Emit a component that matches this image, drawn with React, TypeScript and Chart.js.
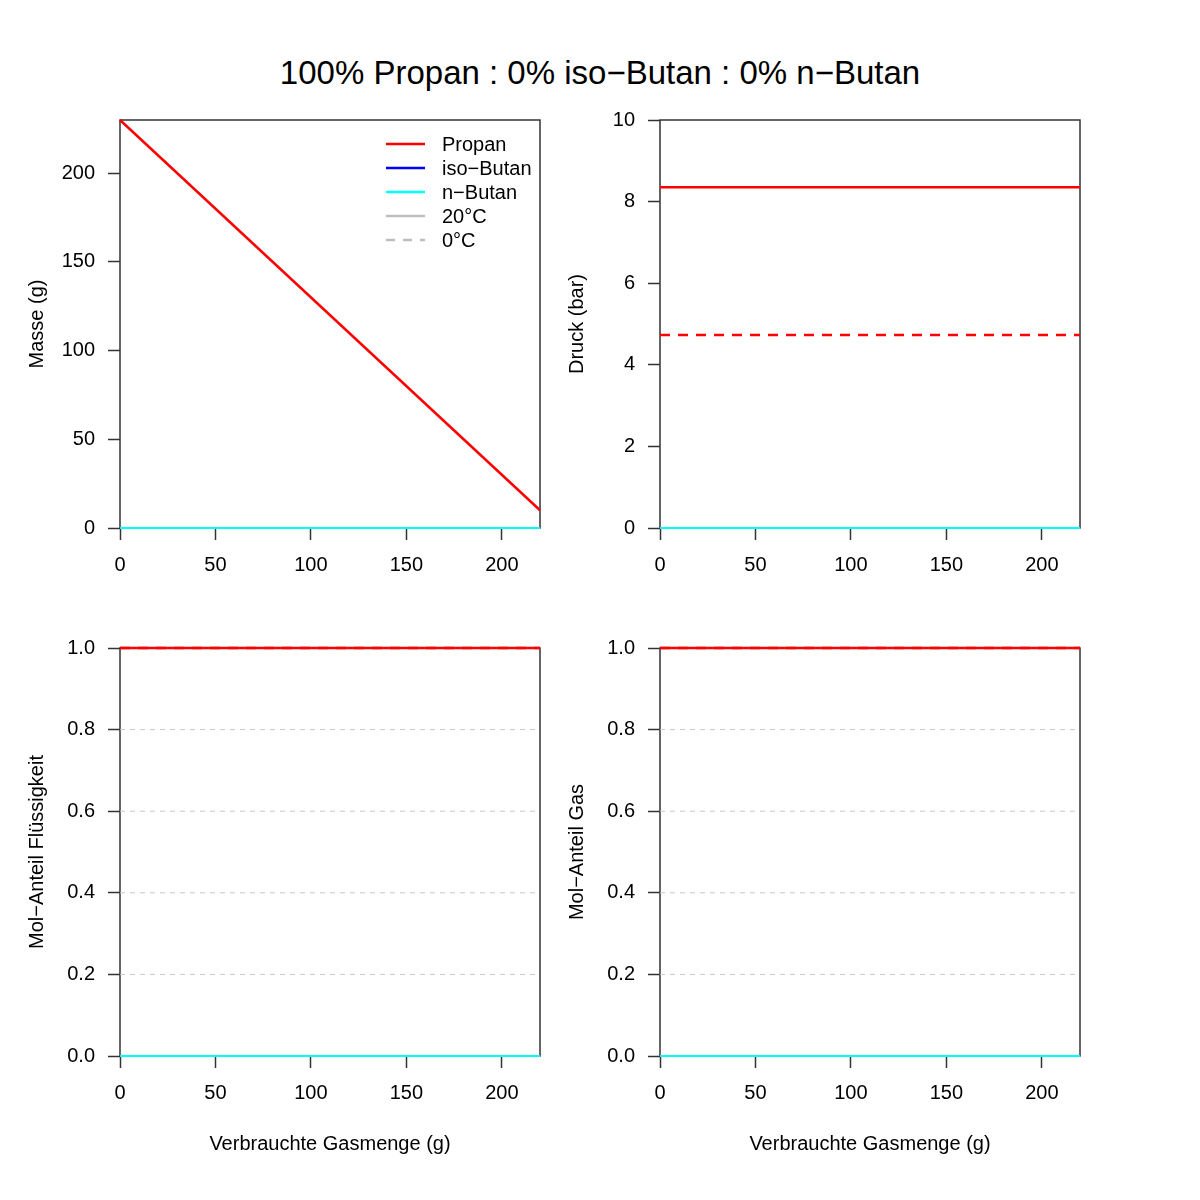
import React, { useEffect, useRef } from 'react';
import Chart from 'chart.js/auto';

const FONT = '"Liberation Sans", Arial, Helvetica, sans-serif';

const mainTitle = '100% Propan : 0% iso−Butan : 0% n−Butan';
const xAxisTitle = 'Verbrauchte Gasmenge (g)';

// x: verbrauchte Gasmenge (g)
const gasUsed = [0, 220];
const xTicks = [0, 50, 100, 150, 200];

// Masse (g)
const massPropan = [230, 10];
const massIsoButan = [0, 0];
const massNButan = [0, 0];
const massTicks = [0, 50, 100, 150, 200];

// Druck (bar), 20°C und 0°C
const pressPropan20 = [8.35, 8.35];
const pressPropan0 = [4.73, 4.73];
const pressIsoButan20 = [0, 0];
const pressIsoButan0 = [0, 0];
const pressNButan20 = [0, 0];
const pressNButan0 = [0, 0];
const pressTicks = [0, 2, 4, 6, 8, 10];

// Mol-Anteil Flüssigkeit
const liqPropan20 = [1, 1];
const liqPropan0 = [1, 1];
const liqIsoButan20 = [0, 0];
const liqIsoButan0 = [0, 0];
const liqNButan20 = [0, 0];
const liqNButan0 = [0, 0];

// Mol-Anteil Gas
const gasPropan20 = [1, 1];
const gasPropan0 = [1, 1];
const gasIsoButan20 = [0, 0];
const gasIsoButan0 = [0, 0];
const gasNButan20 = [0, 0];
const gasNButan0 = [0, 0];

const fracTicks = [0, 0.2, 0.4, 0.6, 0.8, 1.0];
const fracGrid = [0.2, 0.4, 0.6, 0.8];

const legendLabels = ['Propan', 'iso−Butan', 'n−Butan', '20°C', '0°C'];
const RED = '#ff0000';
const BLUE = '#0000ff';
const CYAN = '#00ffff';
const GRAY = '#bebebe';
const legendColors = [RED, BLUE, CYAN, GRAY, GRAY];
const legendDashed = [false, false, false, false, true];

const PLOT_W = 420;
const PLOT_H = 408;
const AXIS_W = 110;
const AXIS_H = 100;
const PAD_TOP = 30;
const PAD_RIGHT = 10;

type Series = { values: number[]; color: string; dashed?: boolean; grid?: boolean };

const framePlugin = {
  id: 'frame',
  beforeDatasetsDraw(chart: any) {
    const { ctx, chartArea } = chart;
    const { left, top, right, bottom } = chartArea;
    ctx.save();
    ctx.strokeStyle = '#333333';
    ctx.lineWidth = 1.5;
    ctx.strokeRect(left, top, right - left, bottom - top);
    ctx.restore();
  },
};

function Panel(props: {
  left: number;
  top: number;
  series: Series[];
  yMax: number;
  yTicks: number[];
  yTitle: string;
  yDecimals: number;
  showXTitle: boolean;
}) {
  const chartRef = useRef<HTMLCanvasElement | null>(null);
  const chartInstance = useRef<Chart | null>(null);
  const width = AXIS_W + PLOT_W + PAD_RIGHT;
  const height = PAD_TOP + PLOT_H + AXIS_H;

  useEffect(() => {
    if (chartInstance.current) {
      chartInstance.current.destroy();
    }
    const ctx = chartRef.current?.getContext('2d');
    if (ctx) {
      // Chart.js draws the first dataset last, so reverse to keep R's drawing order
      const datasets = props.series
        .map((s) => ({
          data: gasUsed.map((x, i) => ({ x, y: s.values[i] })),
          borderColor: s.color,
          borderWidth: s.grid ? 1 : s.color === RED ? 2.5 : 2.2,
          borderDash: s.grid ? [5, 5] : s.dashed ? [10, 8] : [],
          pointRadius: 0,
          tension: 0,
          clip: false as any,
        }))
        .reverse();
      chartInstance.current = new Chart(ctx, {
        type: 'line',
        data: { datasets },
        plugins: [framePlugin],
        options: {
          responsive: false,
          animation: false,
          events: [],
          layout: { padding: { top: PAD_TOP, right: PAD_RIGHT, left: 0, bottom: 0 } },
          plugins: {
            legend: { display: false },
            tooltip: { enabled: false },
          },
          scales: {
            x: {
              type: 'linear',
              min: 0,
              max: 220,
              afterBuildTicks: (scale: any) => {
                scale.ticks = xTicks.map((v) => ({ value: v }));
              },
              afterFit: (scale: any) => {
                scale.height = AXIS_H;
              },
              grid: {
                drawOnChartArea: false,
                drawTicks: true,
                tickLength: 12,
                tickColor: '#333333',
                tickWidth: 1.5,
              },
              border: { display: false },
              ticks: {
                color: '#000',
                font: { family: FONT, size: 20 },
                padding: 13,
                maxRotation: 0,
              },
              title: {
                display: props.showXTitle,
                text: xAxisTitle,
                color: '#000',
                font: { family: FONT, size: 20 },
                padding: { top: 6, bottom: 0 },
              },
            },
            y: {
              type: 'linear',
              min: 0,
              max: props.yMax,
              afterBuildTicks: (scale: any) => {
                scale.ticks = props.yTicks.map((v) => ({ value: v }));
              },
              afterFit: (scale: any) => {
                scale.width = AXIS_W;
              },
              grid: {
                drawOnChartArea: false,
                drawTicks: true,
                tickLength: 12,
                tickColor: '#333333',
                tickWidth: 1.5,
              },
              border: { display: false },
              ticks: {
                color: '#000',
                font: { family: FONT, size: 20 },
                padding: 13,
                callback: (v: any) => Number(v).toFixed(props.yDecimals),
              },
              title: {
                display: true,
                text: props.yTitle,
                color: '#000',
                font: { family: FONT, size: 20 },
                padding: { top: 15, bottom: 0 },
              },
            },
          },
        },
      });
    }
    return () => {
      if (chartInstance.current) {
        chartInstance.current.destroy();
        chartInstance.current = null;
      }
    };
  }, []);

  return (
    <canvas
      ref={chartRef}
      width={width}
      height={height}
      style={{
        position: 'absolute',
        left: props.left - AXIS_W,
        top: props.top - PAD_TOP,
        width,
        height,
      }}
    />
  );
}

function components(
  propan20: number[],
  iso20: number[],
  n20: number[],
  propan0?: number[],
  iso0?: number[],
  n0?: number[]
): Series[] {
  const list: Series[] = [
    { values: propan20, color: RED },
    { values: iso20, color: BLUE },
    { values: n20, color: CYAN },
  ];
  if (propan0 && iso0 && n0) {
    list.push({ values: propan0, color: RED, dashed: true });
    list.push({ values: iso0, color: BLUE, dashed: true });
    list.push({ values: n0, color: CYAN, dashed: true });
  }
  return list;
}

const gridSeries: Series[] = fracGrid.map((v) => ({ values: gasUsed.map(() => v), color: '#c8c8c8', grid: true }));

function Legend() {
  return (
    <div style={{ position: 'absolute', left: 380, top: 132, width: 170, fontFamily: FONT, fontSize: 20 }}>
      {legendLabels.map((label, i) => (
        <div key={label} style={{ position: 'absolute', left: 0, top: i * 24, height: 24, width: 170 }}>
          <svg width={50} height={24} style={{ position: 'absolute', left: 0, top: 0 }}>
            <line
              x1={6}
              x2={45}
              y1={12}
              y2={12}
              stroke={legendColors[i]}
              strokeWidth={2.5}
              strokeDasharray={legendDashed[i] ? '9 8' : undefined}
            />
          </svg>
          <span style={{ position: 'absolute', left: 62, top: 0, lineHeight: '24px', whiteSpace: 'nowrap', color: '#000' }}>
            {label}
          </span>
        </div>
      ))}
    </div>
  );
}

export default function App() {
  return (
    <div style={{ position: 'absolute', left: 0, top: 0, width: 1200, height: 1200, background: '#fff', fontFamily: FONT }}>
      <div
        style={{
          position: 'absolute',
          left: 0,
          top: 53,
          width: 1200,
          textAlign: 'center',
          fontSize: 33,
          lineHeight: '40px',
          color: '#000',
        }}
      >
        {mainTitle}
      </div>
      <Panel
        left={120}
        top={120}
        series={components(massPropan, massIsoButan, massNButan)}
        yMax={230}
        yTicks={massTicks}
        yTitle="Masse (g)"
        yDecimals={0}
        showXTitle={false}
      />
      <Panel
        left={660}
        top={120}
        series={components(pressPropan20, pressIsoButan20, pressNButan20, pressPropan0, pressIsoButan0, pressNButan0)}
        yMax={10}
        yTicks={pressTicks}
        yTitle="Druck (bar)"
        yDecimals={0}
        showXTitle={false}
      />
      <Panel
        left={120}
        top={648}
        series={[...gridSeries, ...components(liqPropan20, liqIsoButan20, liqNButan20, liqPropan0, liqIsoButan0, liqNButan0)]}
        yMax={1}
        yTicks={fracTicks}
        yTitle="Mol−Anteil Flüssigkeit"
        yDecimals={1}
        showXTitle={true}
      />
      <Panel
        left={660}
        top={648}
        series={[...gridSeries, ...components(gasPropan20, gasIsoButan20, gasNButan20, gasPropan0, gasIsoButan0, gasNButan0)]}
        yMax={1}
        yTicks={fracTicks}
        yTitle="Mol−Anteil Gas"
        yDecimals={1}
        showXTitle={true}
      />
      <Legend />
    </div>
  );
}
